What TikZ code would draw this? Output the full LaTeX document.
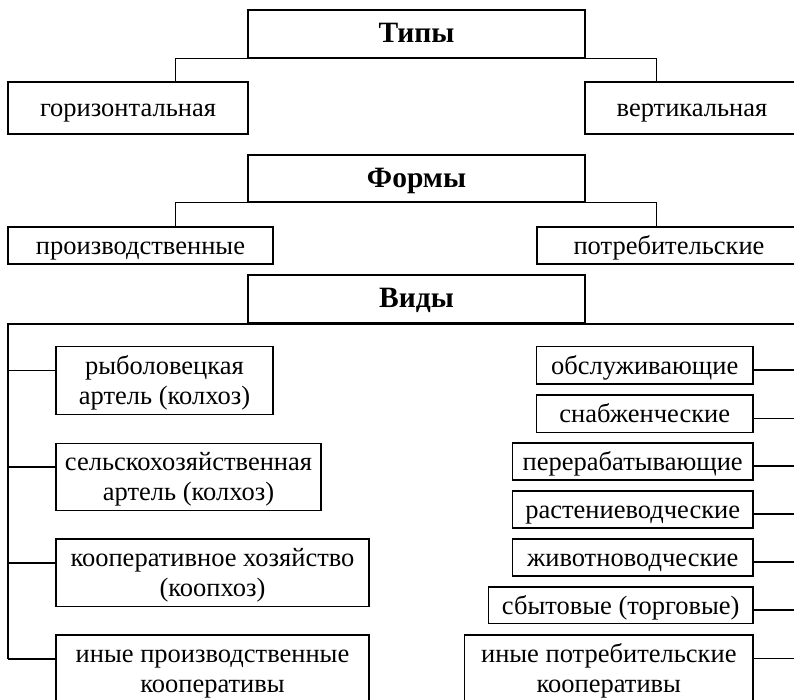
\documentclass[tikz,border=0pt]{standalone}
\usepackage{fontspec}
\setmainfont{Liberation Serif}
\usetikzlibrary{calc}
\begin{document}
\begin{tikzpicture}[x=1pt,y=-1pt,
  box/.style={draw,line width=1.5pt,rectangle,inner sep=0pt,align=center,
    text height=20pt,text depth=2.6pt,
    font=\fontsize{26.5}{30}\selectfont},
  twoline/.style={box,text height=50pt,text depth=3.4pt},
  title/.style={box,font=\fontsize{29.5}{33}\selectfont\bfseries},
  link/.style={line width=1.5pt}]
\useasboundingbox (0,0) rectangle (794,700);
\clip (0,0) rectangle (794,700);
% level boxes
\node[title,minimum width=337,minimum height=48] (tipy) at (416.5,34) {Типы};
\node[box,minimum width=240,minimum height=52] (gor) at (128,108) {горизонтальная};
\node[box,minimum width=214,minimum height=52] (vert) at (692,108) {вертикальная};
\node[title,minimum width=337,minimum height=47] (formy) at (416.5,178.5) {Формы};
\node[box,minimum width=265,minimum height=37] (proizv) at (140.5,245.5) {производственные};
\node[box,minimum width=264,minimum height=37] (potr) at (669,245.5) {потребительские};
\node[title,minimum width=337,minimum height=48] (vidy) at (416.5,299) {Виды};
% left column
\node[twoline,minimum width=217,minimum height=68] (l1) at (164.5,380.7) {рыболовецкая\\артель (колхоз)};
\node[twoline,minimum width=265,minimum height=67.4] (l2) at (188.5,477) {сельскохозяйственная\\артель (колхоз)};
\node[twoline,minimum width=313,minimum height=67.7] (l3) at (212.5,572.8) {кооперативное хозяйство\\(коопхоз)};
\node[twoline,minimum width=313,minimum height=68] (l4) at (212.5,669) {иные производственные\\кооперативы};
% right column
\node[box,minimum width=216.7,minimum height=37.3] (r1) at (644.7,365.3) {обслуживающие};
\node[box,minimum width=216.7,minimum height=37.3] (r2) at (644.7,413.7) {снабженческие};
\node[box,minimum width=240.7,minimum height=37] (r3) at (632.7,461.5) {перерабатывающие};
\node[box,minimum width=240.7,minimum height=37] (r4) at (632.7,509.5) {растениеводческие};
\node[box,minimum width=240.7,minimum height=37] (r5) at (632.7,557.5) {животноводческие};
\node[box,minimum width=264.7,minimum height=36.7] (r6) at (620.7,605.3) {сбытовые (торговые)};
\node[twoline,minimum width=288.3,minimum height=68] (r7) at (608.8,669) {иные потребительские\\кооперативы};
% bus ends
\coordinate (lb) at (8,659);
\coordinate (rb) at (800,659);
% connectors
\draw[link] ($(gor.north west)+(168,0)$) |- (tipy.south) -| ($(vert.north west)+(72,0)$);
\draw[link] ($(proizv.north west)+(168,0)$) |- (formy.south) -| ($(potr.north west)+(120,0)$);
\draw[link] (lb) |- (vidy.south) -| (rb);
\foreach \n in {l1,l2,l3,l4}
  \draw[link] ([yshift=10pt]\n.west) -- ([yshift=10pt]\n.west -| lb);
\foreach \n in {r1,r2,r3,r4,r5,r6}
  \draw[link] ([yshift=-4.7pt]\n.east) -- ([yshift=-4.7pt]\n.east -| rb);
\draw[link] ([yshift=10.7pt]r7.east) -- ([yshift=10.7pt]r7.east -| rb);
\end{tikzpicture}
\end{document}
